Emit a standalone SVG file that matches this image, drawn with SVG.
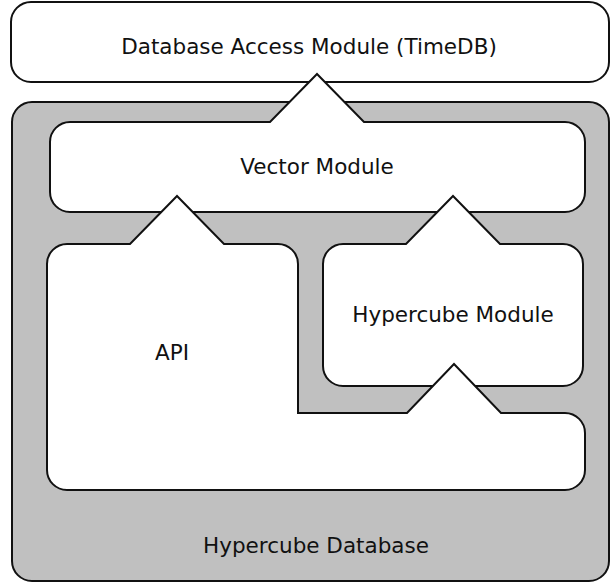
<svg xmlns="http://www.w3.org/2000/svg" width="611" height="583" viewBox="0 0 611 583">
<style>
.box{fill:#ffffff;stroke:#111111;stroke-width:2;stroke-linejoin:miter}
.outer{fill:#c0c0c0;stroke:#111111;stroke-width:2}
.lbl{font-family:"DejaVu Sans",sans-serif;font-size:21.5px;fill:#111111;text-anchor:middle}
</style>
<rect width="611" height="583" fill="#ffffff"/>
<g id="timedb">
<rect class="box" x="11" y="2" width="598" height="80" rx="20" ry="20"/>
<text class="lbl" x="309" y="54">Database Access Module (TimeDB)</text>
</g>
<g id="hypercube-database">
<rect class="outer" x="12" y="102" width="597" height="479" rx="20" ry="20"/>
<text class="lbl" x="316" y="553">Hypercube Database</text>
</g>
<g id="vector-module">
<path class="box" d="M70,122 L270,122 L317,74 L364,122 L565,122 A20,20 0 0 1 585,142 L585,192 A20,20 0 0 1 565,212 L70,212 A20,20 0 0 1 50,192 L50,142 A20,20 0 0 1 70,122 Z"/>
<text class="lbl" x="317" y="174">Vector Module</text>
</g>
<g id="hypercube-module">
<path class="box" d="M343,244 L406,244 L453,196 L500,244 L563,244 A20,20 0 0 1 583,264 L583,366 A20,20 0 0 1 563,386 L343,386 A20,20 0 0 1 323,366 L323,264 A20,20 0 0 1 343,244 Z"/>
<text class="lbl" x="453" y="322">Hypercube Module</text>
</g>
<g id="api">
<path class="box" d="M67,244 L130,244 L177,196 L224,244 L278,244 A20,20 0 0 1 298,264 L298,413 L407,413 L454,364 L501,413 L565,413 A20,20 0 0 1 585,433 L585,470 A20,20 0 0 1 565,490 L67,490 A20,20 0 0 1 47,470 L47,264 A20,20 0 0 1 67,244 Z"/>
<text class="lbl" x="172" y="360">API</text>
</g>
<g id="connectors"></g>
</svg>
